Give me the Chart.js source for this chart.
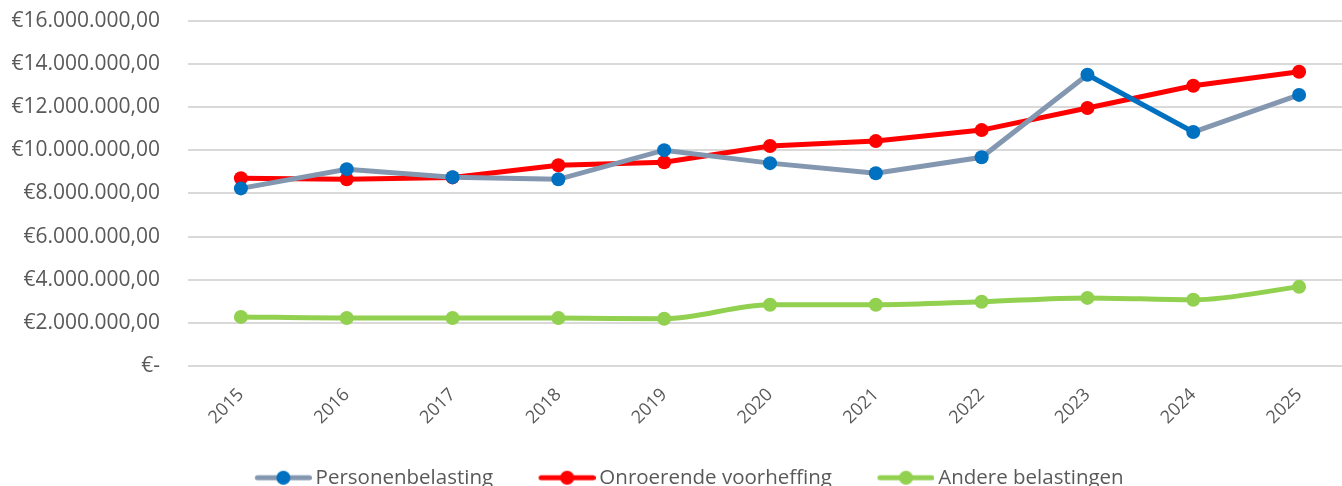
<!DOCTYPE html>
<html>
<head>
<meta charset="utf-8">
<script src="https://cdn.jsdelivr.net/npm/chart.js@4"></script>
<style>
  html, body { margin: 0; padding: 0; background: #fff; overflow: hidden; }
  /* a little wider/taller than the window: the original plot runs off the right edge
     and its legend is clipped at the bottom */
  #wrap { width: 1359px; height: 498px; }
</style>
</head>
<body>
<div id="wrap"><canvas id="lineChart"></canvas></div>
<script>
// data
const years = ['2015', '2016', '2017', '2018', '2019', '2020', '2021', '2022', '2023', '2024', '2025'];
const personenbelasting = [8230000, 9120000, 8750000, 8650000, 10000000, 9400000, 8930000, 9670000, 13490000, 10840000, 12560000];
const onroerendeVoorheffing = [8700000, 8650000, 8740000, 9300000, 9440000, 10190000, 10420000, 10930000, 11950000, 12980000, 13630000];
const andereBelastingen = [2280000, 2230000, 2230000, 2230000, 2190000, 2840000, 2840000, 2980000, 3160000, 3070000, 3670000];
const yTicks = [0, 2000000, 4000000, 6000000, 8000000, 10000000, 12000000, 14000000, 16000000];

const fontName = "'Open Sans', 'Liberation Sans', sans-serif";
const textColor = '#595959';

// line + dot icon for the legend; the empty left part makes the gap between items
function legendIcon(lineColor, dotColor) {
  const c = document.createElement('canvas');
  c.width = 71;
  c.height = 20;
  const g = c.getContext('2d');
  g.strokeStyle = lineColor;
  g.lineWidth = 5;
  g.lineCap = 'round';
  g.beginPath();
  g.moveTo(16.5, 10);
  g.lineTo(68.5, 10);
  g.stroke();
  g.fillStyle = dotColor;
  g.beginPath();
  g.arc(42.5, 10, 7, 0, Math.PI * 2);
  g.fill();
  return c;
}

function euro(v) {
  if (v === 0) return '€-';
  return '€' + v.toLocaleString('de-DE', { minimumFractionDigits: 2, maximumFractionDigits: 2 });
}

const ctx = document.getElementById('lineChart').getContext('2d');

new Chart(ctx, {
  type: 'line',
  data: {
    labels: years,
    datasets: [{
      label: 'Personenbelasting',
      data: personenbelasting,
      borderColor: '#8497B0',
      backgroundColor: '#0070C0',
      pointBackgroundColor: '#0070C0',
      pointBorderColor: '#0070C0',
      borderWidth: 5,
      pointRadius: 7,
      pointBorderWidth: 0,
      tension: 0,
      icon: legendIcon('#8497B0', '#0070C0'),
      segment: {
        // the 2023 -> 2024 piece is drawn in blue
        borderColor: c => c.p0DataIndex === 8 ? '#0070C0' : undefined
      }
    }, {
      label: 'Onroerende voorheffing',
      data: onroerendeVoorheffing,
      borderColor: '#FF0000',
      backgroundColor: '#FF0000',
      pointBackgroundColor: '#FF0000',
      borderWidth: 5,
      pointRadius: 7,
      pointBorderWidth: 0,
      tension: 0,
      icon: legendIcon('#FF0000', '#FF0000')
    }, {
      label: 'Andere belastingen',
      data: andereBelastingen,
      borderColor: '#92D050',
      backgroundColor: '#92D050',
      pointBackgroundColor: '#92D050',
      borderWidth: 5,
      pointRadius: 7,
      pointBorderWidth: 0,
      cubicInterpolationMode: 'monotone',
      icon: legendIcon('#92D050', '#92D050')
    }]
  },
  options: {
    responsive: true,
    maintainAspectRatio: false,
    animation: false,
    layout: { padding: { left: 12, right: 0, top: 5, bottom: 0 } },
    plugins: {
      tooltip: { enabled: false },
      legend: {
        position: 'bottom',
        labels: {
          usePointStyle: true,
          pointStyleWidth: 58,
          color: textColor,
          font: { family: fontName, size: 20.5 },
          padding: 38,
          boxHeight: 20,
          generateLabels: chart => chart.data.datasets.map((ds, i) => ({
            text: ds.label,
            pointStyle: ds.icon,
            fontColor: textColor,
            datasetIndex: i,
            lineWidth: 0,
            hidden: false
          }))
        }
      }
    },
    scales: {
      x: {
        offset: true,
        grid: { display: false },
        border: { display: false },
        afterFit: s => { s.height -= 9; },
        ticks: {
          color: textColor,
          font: { family: fontName, size: 18 },
          minRotation: 45,
          maxRotation: 45,
          padding: 10
        }
      },
      y: {
        min: 0,
        max: 16000000,
        afterBuildTicks: axis => { axis.ticks = yTicks.map(v => ({ value: v })); },
        afterFit: s => { s.width = 176; },
        grid: { color: '#D9D9D9', lineWidth: 2, tickLength: 20, tickColor: 'rgba(0,0,0,0)' },
        border: { display: false },
        ticks: {
          color: textColor,
          font: { family: fontName, size: 21 },
          padding: 8,
          callback: v => euro(v)
        }
      }
    }
  }
});
</script>
</body>
</html>
